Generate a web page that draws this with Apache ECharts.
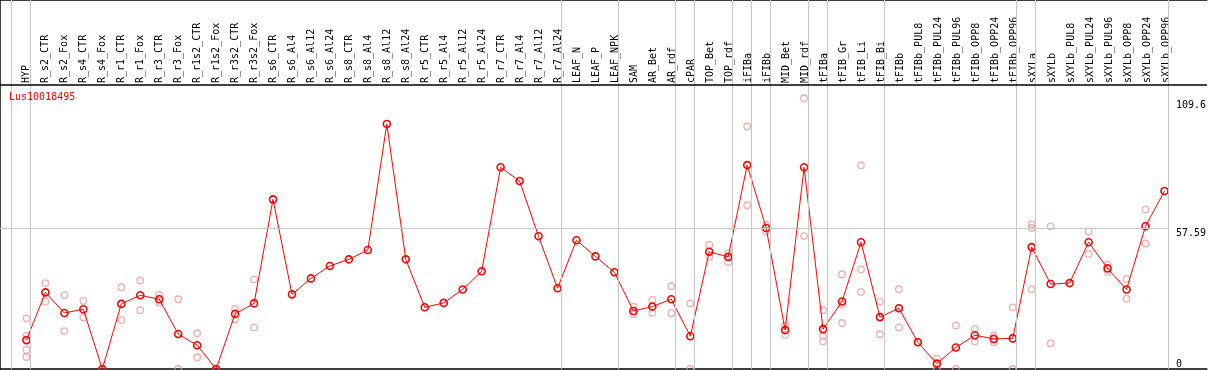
<!DOCTYPE html>
<html>
<head>
<meta charset="utf-8">
<script src="https://cdn.jsdelivr.net/npm/echarts@6/dist/echarts.min.js"></script>
<style>html,body{margin:0;padding:0;background:#fff}#c{width:1209px;height:370px}</style>
</head>
<body>
<div id="c"></div>
<script>
const title = 'Lus10018495';
const categories = ['HYP','R_s2_CTR','R_s2_Fox','R_s4_CTR','R_s4_Fox','R_r1_CTR','R_r1_Fox','R_r3_CTR','R_r3_Fox','R_r1s2_CTR','R_r1s2_Fox','R_r3s2_CTR','R_r3s2_Fox','R_s6_CTR','R_s6_Al4','R_s6_Al12','R_s6_Al24','R_s8_CTR','R_s8_Al4','R_s8_Al12','R_s8_Al24','R_r5_CTR','R_r5_Al4','R_r5_Al12','R_r5_Al24','R_r7_CTR','R_r7_Al4','R_r7_Al12','R_r7_Al24','LEAF_N','LEAF_P','LEAF_NPK','SAM','AR_Bet','AR_rdf','cPAR','TOP_Bet','TOP_rdf','iFIBa','iFIBb','MID_Bet','MID_rdf','tFIBa','tFIB_Gr','tFIB_Li','tFIB_Bi','tFIBb','tFIBb_PUL8','tFIBb_PUL24','tFIBb_PUL96','tFIBb_OPP8','tFIBb_OPP24','tFIBb_OPP96','sXYLa','sXYLb','sXYLb_PUL8','sXYLb_PUL24','sXYLb_PUL96','sXYLb_OPP8','sXYLb_OPP24','sXYLb_OPP96'];
const means = [11.8,31.3,22.9,24.4,0,26.6,30.1,28.5,14.3,9.7,0,22.5,26.8,69.3,30.5,37.0,42.1,44.8,48.6,100.1,44.8,25.2,27.0,32.5,39.9,82.4,76.8,54.2,33.0,52.6,46.0,39.5,23.7,25.5,28.5,13.4,47.9,45.8,83.3,57.6,15.9,82.4,16.3,27.6,51.8,21.2,24.8,10.9,2.2,8.8,13.8,12.3,12.5,49.8,34.7,35.1,51.8,41.1,32.5,58.3,72.7];
const replicates = [[20.7,13.5,7.8,4.9],[35.1,27.6],[30.2,15.5],[27.8,21.0],[0,0],[33.4,20.0],[36.2,24.0],[30.4,27.1],[28.5,0],[14.6,4.8],[0,0],[24.5,20.3],[36.6,17.0],
[],[],[],[],[],[],[],[],[],[],[],[],[],[],[],[],[],[],[],
[25.5,22.5],[28.2,23.0],[33.8,22.8],[26.8,0],[50.7,45.9],[47.4,43.6],[99.1,66.9],[58.9,56.2],[17.7,13.9],[110.6,54.3],
[24.0,13.5,11.3],[38.7,26.3,18.8],[83.2,40.7,31.5],[27.6,21.2,14.2],[32.6,24.8,17.0],[10.9,10.9],[4.2,0],[17.8,0],[16.3,11.2],[13.6,10.9],[25.2,0],
[59.1,57.6,32.6],[58.3,10.5],[],[56.2,47.0],[42.6,39.7],[36.8,28.7],[65.2,51.3],[]];
const yTickLabels = [0, 57.59, 109.6];
const refLineValue = 57.59;
const groupBreaks = [-1,0,28,31,34,35,37,38,39,41,42,45,52,53,60];

// layout
const W = 1209, H = 370;
const X0 = 26.5, STEP = 19;
const PLOT_BOTTOM = 369, HEADER = 85, PXU = 2.448;
const SEP_OFF = 0.2;
const xMin = -X0 / STEP, xMax = (W - X0) / STEP;
const yMax = PLOT_BOTTOM / PXU;
const headerVal = (PLOT_BOTTOM - HEADER) / PXU;
const FONT = 'DejaVu Sans Mono';

const repData = [];
replicates.forEach((r, i) => r.forEach(v => repData.push([i, v])));
const meanData = means.map((v, i) => [i, v]);

const sepLines = groupBreaks.map(b => ({ xAxis: b + SEP_OFF }));
const markLines = sepLines.concat([
  [{ coord: [xMin, refLineValue] }, { coord: [groupBreaks[groupBreaks.length - 1] + SEP_OFF, refLineValue] }]
]);

const chart = echarts.init(document.getElementById('c'), null, { renderer: 'canvas' });
chart.setOption({
  animation: false,
  backgroundColor: '#fff',
  title: { text: title, left: 9, top: 92, padding: 0, textStyle: { color: '#ff0000', fontSize: 10, fontWeight: 'normal', fontFamily: FONT } },
  grid: [
    { left: 0, right: 0, top: 0, bottom: H - PLOT_BOTTOM },
    { left: X0 - STEP / 2, width: STEP * categories.length, top: HEADER, bottom: H - PLOT_BOTTOM }
  ],
  xAxis: [
    { type: 'value', gridIndex: 0, min: xMin, max: xMax, axisLine: { show: true, onZero: false, lineStyle: { color: '#000', width: 1.5 } }, axisTick: { show: false }, axisLabel: { show: false }, splitLine: { show: false } },
    { type: 'value', gridIndex: 0, position: 'top', min: xMin, max: xMax, axisLine: { show: true, onZero: false, lineStyle: { color: '#000', width: 1.5 } }, axisTick: { show: false }, axisLabel: { show: false }, splitLine: { show: false } },
    { type: 'category', gridIndex: 1, position: 'top', data: categories, boundaryGap: true,
      axisLine: { show: false }, axisTick: { show: false }, splitLine: { show: false },
      axisLabel: { interval: 0, rotate: 90, margin: 2, color: '#000', fontSize: 10, fontFamily: FONT } }
  ],
  yAxis: [
    { type: 'value', gridIndex: 0, position: 'right', min: 0, max: yMax, axisLine: { show: false }, axisTick: { show: false }, splitLine: { show: false },
      axisLabel: { inside: true, align: 'left', margin: 31, verticalAlign: 'top', color: '#000', fontSize: 10, fontFamily: FONT,
        customValues: yTickLabels.filter(v => v > 0) } },
    { type: 'value', gridIndex: 0, position: 'right', min: 0, max: yMax, axisLine: { show: false }, axisTick: { show: false }, splitLine: { show: false },
      axisLabel: { inside: true, align: 'left', margin: 31, verticalAlign: 'bottom', color: '#000', fontSize: 10, fontFamily: FONT,
        customValues: yTickLabels.filter(v => v === 0) } },
    { type: 'value', gridIndex: 0, position: 'left', min: 0, max: yMax, axisLine: { show: true, lineStyle: { color: '#000', width: 1.5 } }, axisTick: { show: false }, axisLabel: { show: false }, splitLine: { show: false } },
    { type: 'value', gridIndex: 1, show: false }
  ],
  series: [
    { type: 'scatter', xAxisIndex: 0, yAxisIndex: 0, data: repData, symbol: 'circle', symbolSize: 6.5,
      itemStyle: { color: 'rgba(0,0,0,0)', borderColor: '#ec9a9a', borderWidth: 1.3 },
      emphasis: { disabled: true }, silent: true, z: 2,
      markLine: { silent: true, symbol: 'none', label: { show: false }, animation: false,
        lineStyle: { color: '#c8c8c8', width: 1, type: 'solid' }, data: markLines } },
    { type: 'line', xAxisIndex: 0, yAxisIndex: 0, data: [], silent: true,
      markLine: { silent: true, symbol: 'none', label: { show: false }, animation: false,
        lineStyle: { color: '#000', width: 1.5, type: 'solid' }, data: [{ yAxis: headerVal }] } },
    { type: 'line', xAxisIndex: 0, yAxisIndex: 0, data: meanData, symbol: 'circle', symbolSize: 7, showAllSymbol: true,
      lineStyle: { color: '#ff0000', width: 1 },
      itemStyle: { color: 'rgba(0,0,0,0)', borderColor: '#ff0000', borderWidth: 1.6 },
      emphasis: { disabled: true }, silent: true, z: 3 }
  ]
});
</script>
</body>
</html>
